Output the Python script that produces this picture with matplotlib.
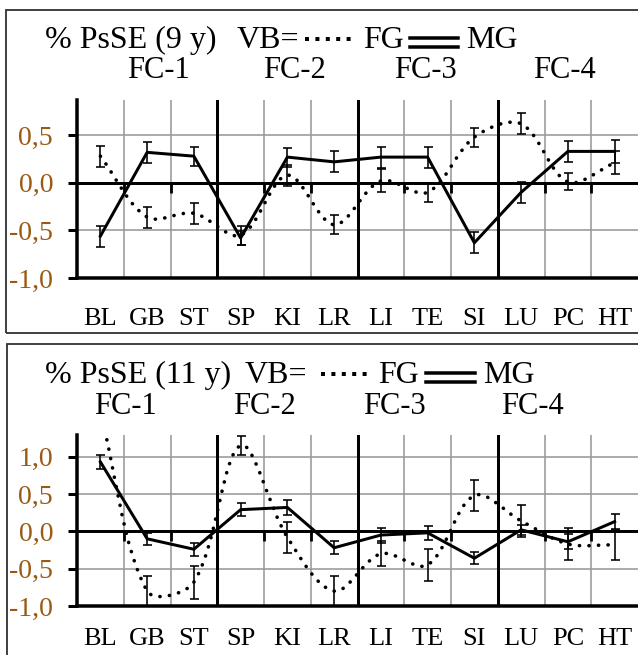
import matplotlib
matplotlib.use("Agg")
import matplotlib.pyplot as plt
import numpy as np
from matplotlib.path import Path
from matplotlib.patches import PathPatch, Rectangle
from matplotlib.lines import Line2D

plt.rcParams["font.family"] = ["Liberation Serif", "DejaVu Serif"]

# --- data ---
cats = ["BL", "GB", "ST", "SP", "KI", "LR", "LI", "TE", "SI", "LU", "PC", "HT"]
groups = ["FC-1", "FC-2", "FC-3", "FC-4"]

# 9 years
fg9 = [0.28, -0.36, -0.32, -0.55, 0.08, -0.44, 0.02, -0.10, 0.48, 0.62, 0.01, 0.21]
fg9_err = [0.11, 0.11, 0.11, 0.10, 0.11, 0.10, 0.12, 0.10, 0.10, 0.11, 0.09, 0.12]
mg9 = [-0.56, 0.32, 0.28, -0.58, 0.27, 0.22, 0.27, 0.27, -0.63, -0.10, 0.33, 0.33]
mg9_err = [0.11, 0.11, 0.10, 0.07, 0.10, 0.11, 0.11, 0.11, 0.11, 0.11, 0.11, 0.12]

# 11 years
fg11 = [1.60, -0.80, -0.68, 1.15, -0.08, -0.80, -0.30, -0.45, 0.48, 0.14, -0.17, -0.18]
fg11_err = [0.20, 0.20, 0.22, 0.13, 0.21, 0.20, 0.17, 0.22, 0.21, 0.21, 0.21, 0.20]
mg11 = [0.93, -0.10, -0.24, 0.29, 0.32, -0.22, -0.05, -0.02, -0.36, 0.02, -0.14, 0.13]
mg11_err = [0.09, 0.08, 0.09, 0.09, 0.10, 0.09, 0.10, 0.09, 0.08, 0.07, 0.10, 0.10]

W, H = 638, 655
fig = plt.figure(figsize=(W / 100, H / 100), dpi=100)


def fx(x):
    return x / W


def fy(y):
    return 1 - y / H


def smooth_path(ax, xs, ys):
    # Excel-like smoothed line: chord-weighted cardinal spline as cubic Beziers,
    # chord lengths measured on screen
    p = np.column_stack([xs, ys]).astype(float)
    s = ax.transData.transform(p)
    n = len(p)
    verts = [p[0]]
    codes = [Path.MOVETO]
    for i in range(n - 1):
        i0 = max(i - 1, 0)
        i3 = min(i + 2, n - 1)
        d01 = np.hypot(*(s[i] - s[i0]))
        d12 = np.hypot(*(s[i + 1] - s[i]))
        d23 = np.hypot(*(s[i3] - s[i + 1]))
        c1 = p[i] + (p[i + 1] - p[i0]) * d12 / (d01 + d12) / 3
        c2 = p[i + 1] - (p[i3] - p[i]) * d12 / (d12 + d23) / 3
        verts += [c1, c2, p[i + 1]]
        codes += [Path.CURVE4] * 3
    return Path(verts, codes)


tick_color = "#9a5a14"
px = 72 / 100  # points per pixel


def draw_panel(ax, fg, fg_err, mg, mg_err, ymax, yticks, xpad):
    x = np.arange(len(cats))
    ax.set_xlim(-0.5, len(cats) - 0.5)
    ax.set_ylim(-1.0, ymax)

    # grid
    ax.set_yticks(yticks)
    ax.set_yticklabels([f"{t:.1f}".replace(".", ",") for t in yticks])
    ax.set_xticks(x)
    ax.set_xticklabels(cats)
    ax.set_xticks(np.arange(0.5, len(cats) - 0.5, 1), minor=True)
    ax.grid(True, which="major", axis="y", color="#999999", lw=1.6 * px)
    ax.grid(True, which="minor", axis="x", color="#999999", lw=1.6 * px)
    ax.set_axisbelow(True)
    for b in [2.5, 5.5, 8.5]:
        ax.axvline(b, color="black", lw=3 * px, zorder=2)

    for s in ["top", "right"]:
        ax.spines[s].set_visible(False)
    ax.spines["left"].set_linewidth(3.5 * px)
    ax.spines["bottom"].set_linewidth(3.5 * px)
    ax.tick_params(axis="y", direction="out", length=9 * px, width=3 * px,
                   pad=15 * px, labelsize=20, labelcolor=tick_color)
    ax.tick_params(axis="x", which="major", length=0, pad=xpad * px, labelsize=19)
    ax.tick_params(axis="x", which="minor", length=0)

    # zero line with short ticks at category boundaries
    ax.axhline(0, color="black", lw=2.8 * px, zorder=2.5)
    zero = ax.secondary_xaxis(0, transform=ax.transData)
    zero.set_zorder(2.6)
    zero.set_xticks(np.arange(0.5, len(cats) - 0.5, 1))
    zero.set_xticklabels([])
    zero.tick_params(direction="out", length=10 * px, width=2.8 * px, color="black")
    zero.spines["bottom"].set_linewidth(2.8 * px)
    zero.spines["bottom"].set_color("black")

    # MG: solid straight line
    ax.errorbar(x, mg, yerr=mg_err, color="black", lw=3 * px, elinewidth=1.6 * px,
                capsize=4.5 * px, capthick=1.6 * px, zorder=4)
    # FG: smoothed dotted line
    patch = PathPatch(smooth_path(ax, x, fg), fill=False, edgecolor="black",
                      lw=3.6 * px, linestyle=(0, (0.05, 2.6)), zorder=4)
    patch.set_capstyle("round")
    ax.add_patch(patch)
    ax.errorbar(x, fg, yerr=fg_err, fmt="none", ecolor="black", elinewidth=1.6 * px,
                capsize=4.5 * px, capthick=1.6 * px, zorder=4)


ax1 = fig.add_axes([fx(77), fy(278), fx(638) - fx(77), (278 - 100) / H])
draw_panel(ax1, fg9, fg9_err, mg9, mg9_err, 0.87, [-1.0, -0.5, 0.0, 0.5], 30)

ax2 = fig.add_axes([fx(77), fy(606), fx(638) - fx(77), (606 - 435) / H])
draw_panel(ax2, fg11, fg11_err, mg11, mg11_err, 1.29, [-1.0, -0.5, 0.0, 0.5, 1.0], 22)

# panel frames
fig.add_artist(Rectangle((fx(6), fy(333)), 1.2, (333 - 10) / H, transform=fig.transFigure,
                         fill=False, ec="#303030", lw=1.8 * px))
fig.add_artist(Rectangle((fx(7), fy(760)), 1.2, (760 - 344) / H, transform=fig.transFigure,
                         fill=False, ec="#303030", lw=1.8 * px))


def header(title, y_base, y_fc, vb_x, dots, fg_x, dbl, mg_x, fc_xs):
    fig.text(fx(45), fy(y_base), title, fontsize=23, va="baseline")
    fig.text(fx(vb_x), fy(y_base), "VB=", fontsize=23, va="baseline")
    y_mid = y_base - 9
    fig.add_artist(Line2D([fx(dots[0]), fx(dots[1])], [fy(y_mid), fy(y_mid)],
                          transform=fig.transFigure, color="black", lw=4 * px,
                          linestyle=(0, (1, 1.6)), dash_capstyle="butt"))
    fig.text(fx(fg_x), fy(y_base), "FG", fontsize=23, va="baseline")
    for dy in (-10, -1):
        fig.add_artist(Line2D([fx(dbl[0]), fx(dbl[1])], [fy(y_base + dy), fy(y_base + dy)],
                              transform=fig.transFigure, color="black", lw=3.5 * px))
    fig.text(fx(mg_x), fy(y_base), "MG", fontsize=23, va="baseline")
    for name, cx in zip(groups, fc_xs):
        fig.text(fx(cx), fy(y_fc), name, fontsize=22, va="baseline", ha="center")


header("% PsSE (9 y)", 48, 78, 237, (305, 356), 363, (410, 458), 466, [158, 294, 425, 564])
header("% PsSE (11 y)", 383, 414, 245, (321, 371), 378, (426, 475), 483, [125, 264, 394, 532])

fig.savefig("out.png", dpi=100)
